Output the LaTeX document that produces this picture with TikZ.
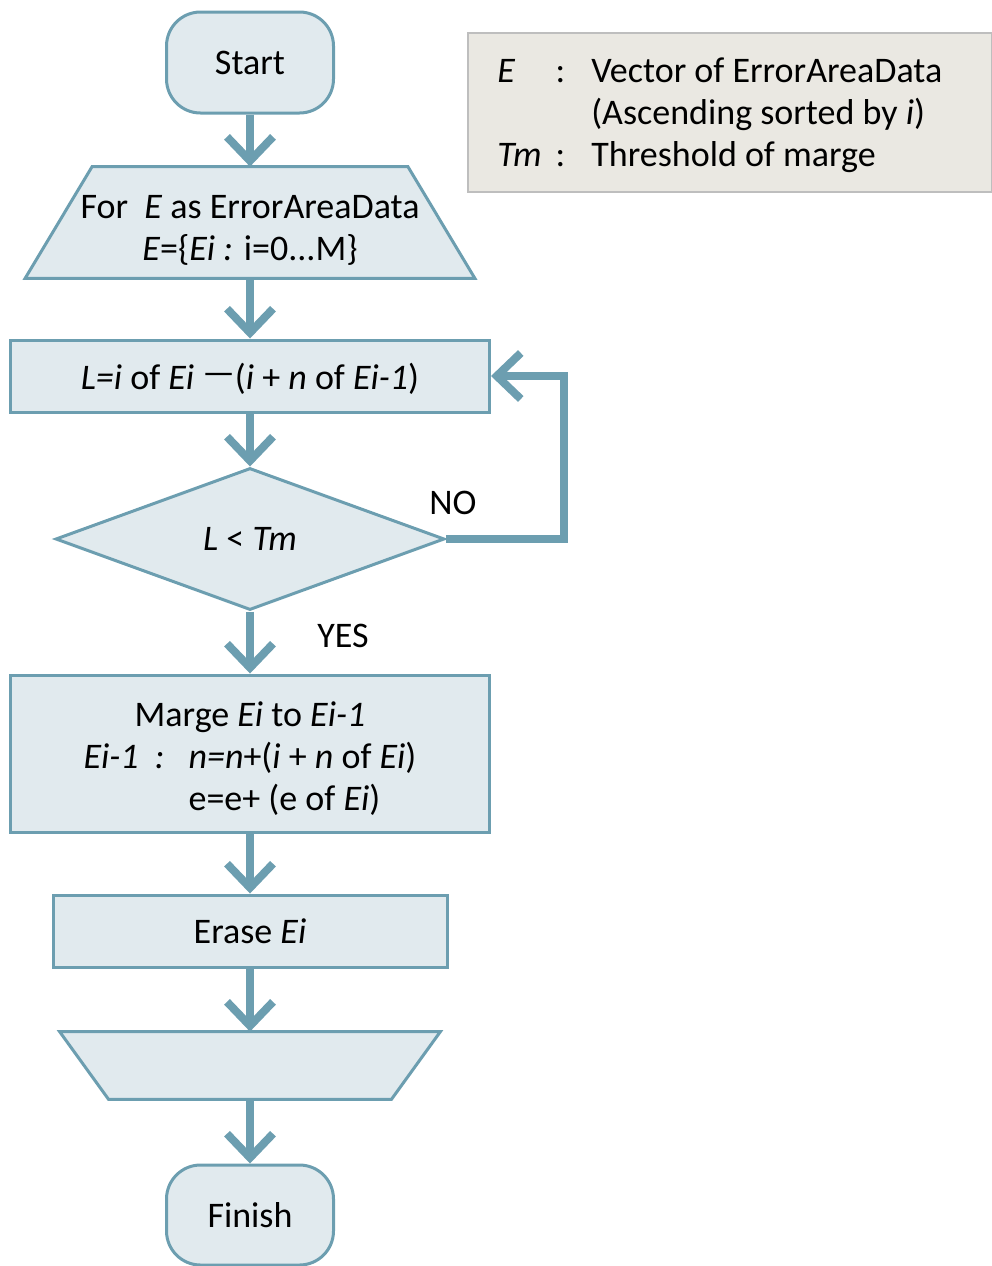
\documentclass[tikz,border=0pt]{standalone}
\usepackage{fontspec}
\setmainfont{Carlito}
\usetikzlibrary{arrows.meta,shapes.geometric,backgrounds}
\definecolor{boxfill}{RGB}{225,234,238}
\definecolor{boxline}{RGB}{108,158,176}
\definecolor{notefill}{RGB}{234,232,226}
\definecolor{noteline}{RGB}{190,190,190}

\begin{document}
\begin{tikzpicture}[x=0.5pt,y=-0.5pt,font=\fontsize{18}{21}\selectfont,
	box/.style={draw=boxline,fill=boxfill,line width=1.5pt,inner sep=0pt},
	flow/.style={draw=boxline,line width=4pt,-{Straight Barb[length=12pt,width=23pt]}}]

	\useasboundingbox (0,0) rectangle (992,1266);

	% legend

	\node[draw=noteline,fill=notefill,line width=0.8pt,minimum width=262pt,minimum height=79.5pt,inner sep=0pt] (legend) at (730,112.5) {};
	\node[anchor=west,inner sep=0pt] (legtext) at (497,116) {\begin{tabular}{@{}l@{\hspace{7pt}}c@{\hspace{13pt}}l@{}}
		\textit{E} & : & Vector of ErrorAreaData\\
		 & & (Ascending sorted by \textit{i})\\
		\textit{Tm} & : & Threshold of marge
	\end{tabular}};

	% flow chart boxes

	\node[box,rounded corners=17pt,minimum width=83.5pt,minimum height=50.5pt] (start) at (250,62.5) {Start};
	\node[minimum width=224.5pt,minimum height=55.5pt,inner sep=0pt] (forin) at (250,222.5) {\raisebox{-4.5pt}[\height][\depth]{\begin{tabular}{@{}c@{}}
		For~ \textit{E} as ErrorAreaData\\
		\textit{E}=\{\textit{Ei :} i=0...M\}
	\end{tabular}}};
	\node[box,minimum width=239.5pt,minimum height=36pt] (calc) at (250,376) {\raisebox{-1.5pt}[\height][\depth]{\textit{L=i} of \textit{Ei} \raisebox{0.3ex}{—}(\textit{i} + \textit{n} of \textit{Ei-1})}};
	\node[box,diamond,minimum width=194.5pt,minimum height=71pt] (test) at (250,539) {\textit{L} < \textit{Tm}};
	\node[box,minimum width=239.5pt,minimum height=78.5pt] (merge) at (250,753.5) {\raisebox{-3.5pt}[\height][\depth]{\begin{tabular}{@{}l@{\hspace{12pt}}l@{}}
		\multicolumn{2}{c}{Marge \textit{Ei} to \textit{Ei-1}}\\
		\textit{Ei-1} \ \textit{:} & \textit{n=n}+(\textit{i} + \textit{n} of \textit{Ei})\\
		 & e=e+ (e of \textit{Ei})
	\end{tabular}}};
	\node[box,minimum width=197pt,minimum height=36pt] (erase) at (250,931) {Erase \textit{Ei}};
	\node[minimum width=190pt,minimum height=33.5pt,inner sep=0pt] (endloop) at (250,1065.5) {};
	\node[box,rounded corners=17pt,minimum width=83.5pt,minimum height=50pt] (finish) at (250,1215) {Finish};

	% trapezium outlines behind the text

	\begin{pgfonlayer}{background}
		\draw[box] ([xshift=33.5pt]forin.north west) -- ([xshift=-33.5pt]forin.north east) -- (forin.south east) -- (forin.south west) -- cycle;
		\draw[box] (endloop.north west) -- (endloop.north east) -- ([xshift=-24.5pt]endloop.south east) -- ([xshift=24.5pt]endloop.south west) -- cycle;
	\end{pgfonlayer}

	% labels

	\node (no) at (453,503) {NO};
	\node (yes) at (343,636) {YES};

	% connectors

	\draw[flow] (start) -- (forin);
	\draw[flow] (forin) -- (calc);
	\draw[flow] (calc) -- (test);
	\draw[flow] (test) -- (merge);
	\draw[flow] (merge) -- (erase);
	\draw[flow] (erase) -- (endloop);
	\draw[flow] (endloop) -- (finish);
	\draw[flow] (test.east) -- ++(118,0) |- (calc.east);

\end{tikzpicture}
\end{document}
